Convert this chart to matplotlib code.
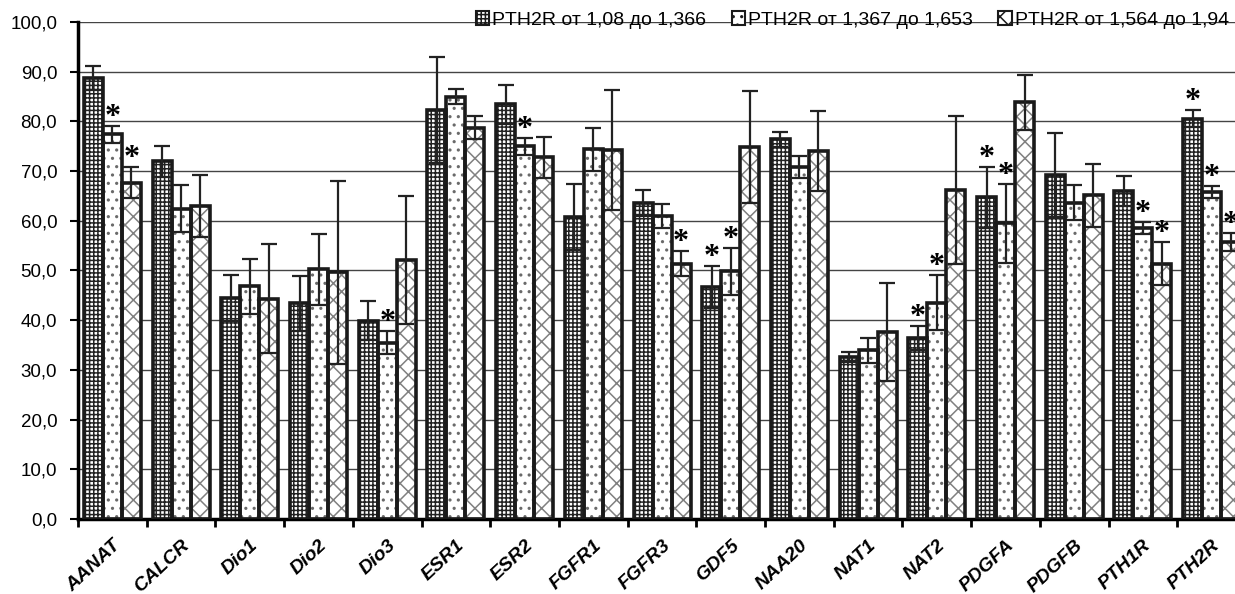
import matplotlib
matplotlib.use("Agg")
import matplotlib.pyplot as plt
from matplotlib.patches import Patch
import numpy as np

# gene names along the x axis
genes = ['AANAT', 'CALCR', 'Dio1', 'Dio2', 'Dio3', 'ESR1', 'ESR2', 'FGFR1', 'FGFR3',
         'GDF5', 'NAA20', 'NAT1', 'NAT2', 'PDGFA', 'PDGFB', 'PTH1R', 'PTH2R']

series_names = ['PTH2R от 1,08 до 1,366', 'PTH2R от 1,367 до 1,653', 'PTH2R от 1,564 до 1,94']

# values
low = [88.8, 72.0, 44.5, 43.4, 39.9, 82.3, 83.4, 60.8, 63.5, 46.7, 76.4, 32.5, 36.4, 64.7, 69.2, 66.0, 80.5]
low_err = [2.4, 3.1, 4.6, 5.5, 3.9, 10.6, 4.0, 6.7, 2.6, 4.2, 1.5, 1.0, 2.4, 6.2, 8.5, 3.0, 1.7]
mid = [77.4, 62.4, 46.8, 50.2, 35.5, 85.0, 75.0, 74.4, 61.0, 49.8, 70.9, 33.9, 43.5, 59.5, 63.6, 58.5, 65.7]
mid_err = [1.7, 4.7, 5.6, 7.1, 2.4, 1.5, 1.7, 4.3, 2.4, 4.8, 2.2, 2.5, 5.5, 8.0, 3.5, 1.2, 1.2]
high = [67.7, 63.0, 44.3, 49.6, 52.1, 78.7, 72.8, 74.2, 51.4, 74.9, 74.0, 37.6, 66.2, 83.8, 65.1, 51.4, 55.7]
high_err = [3.2, 6.3, 11.0, 18.5, 12.8, 2.3, 4.1, 12.1, 2.6, 11.3, 8.1, 9.9, 14.8, 5.5, 6.3, 4.4, 1.8]

# genes marked with an asterisk, per series
star_low = ['GDF5', 'NAT2', 'PDGFA', 'PTH2R']
star_mid = ['AANAT', 'Dio3', 'ESR2', 'GDF5', 'NAT2', 'PDGFA', 'PTH1R', 'PTH2R']
star_high = ['AANAT', 'FGFR3', 'PTH1R', 'PTH2R']

plt.rcParams['font.family'] = ['Liberation Sans', 'DejaVu Sans']
plt.rcParams['hatch.linewidth'] = 1.1

fig = plt.figure(figsize=(12.35, 5.94), dpi=100)
# axes run a little past the right edge, the reference is cropped there
ax = fig.add_axes([0.0632, 0.1263, 0.9457, 0.8367])

x = np.arange(len(genes))
w = 0.2766
styles = [
    dict(hatch='++++', color='#222222'),
    dict(hatch='..', color='#6a6a6a'),
    dict(hatch='xx', color='#808080'),
]
data = [(low, low_err, star_low), (mid, mid_err, star_mid), (high, high_err, star_high)]

for k, ((vals, errs, stars), st) in enumerate(zip(data, styles)):
    pos = x + (k - 1) * w
    # hatched fill, then a thick black outline on top
    ax.bar(pos, vals, w, facecolor='white', edgecolor=st['color'], hatch=st['hatch'],
           linewidth=0, zorder=2)
    ax.bar(pos, vals, w, fill=False, edgecolor='#1a1a1a', linewidth=2.6, zorder=3)
    ax.errorbar(pos, vals, yerr=errs, fmt='none', ecolor='#222222', elinewidth=1.6,
                capsize=5.5, capthick=1.6, zorder=4)
    for g in stars:
        i = genes.index(g)
        ax.text(pos[i], vals[i] + errs[i] + 0.2, '*', ha='center', va='baseline',
                fontsize=23, fontweight='bold', family='Liberation Serif', zorder=5)

ax.set_ylim(0, 100)
ax.set_xlim(-0.5, len(genes) - 0.5)
ax.set_yticks(np.arange(0, 101, 10))
ax.set_yticklabels([f'{v:.1f}'.replace('.', ',') for v in np.arange(0, 101, 10)], fontsize=13.5)
ax.yaxis.grid(True, color='#444444', linewidth=1.0, zorder=0)
ax.set_axisbelow(True)

ax.set_xticks(x)
ax.set_xticklabels(genes, fontsize=14, fontweight='bold', fontstyle='italic',
                   rotation=43, ha='right', rotation_mode='anchor')
ax.set_xticks(np.arange(-0.5, len(genes), 1), minor=True)
ax.tick_params(axis='x', which='major', length=0, pad=13)
ax.tick_params(axis='x', which='minor', length=6, width=2, direction='out')
ax.tick_params(axis='y', length=6, width=1.5, direction='out', pad=9)

for s in ['top', 'right']:
    ax.spines[s].set_visible(False)
ax.spines['left'].set_linewidth(2.5)
ax.spines['bottom'].set_linewidth(2.5)

handles = [Patch(facecolor='white', edgecolor='#1a1a1a', hatch=st['hatch'], linewidth=1.5)
           for st in styles]
fig.legend(handles, series_names, loc='upper right', bbox_to_anchor=(1.003, 0.998),
           ncol=3, frameon=False, fontsize=14, handlelength=0.7, handleheight=0.7,
           handletextpad=0.15, columnspacing=1.3, borderpad=0.3, borderaxespad=0.2)

fig.savefig('out.png', dpi=100)
